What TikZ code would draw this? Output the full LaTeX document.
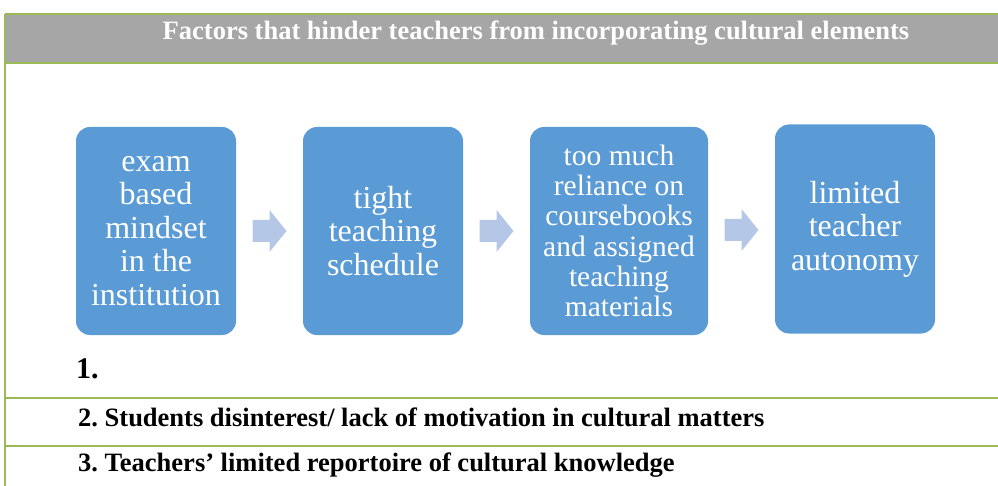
\documentclass[tikz,border=0pt]{standalone}
\usepackage{fontspec}
\setmainfont{Liberation Serif}
\frenchspacing
\definecolor{boxblue}{HTML}{5B9BD5}
\definecolor{arrblue}{HTML}{B4C7E7}
\definecolor{hdrgray}{HTML}{A6A6A6}
\definecolor{tabgreen}{HTML}{9BBB59}
\begin{document}
\begin{tikzpicture}[x=1pt,y=-1pt,
  stepbox/.style={fill=boxblue, rounded corners=14pt, inner sep=0pt, text=white, align=center,
    font=\fontsize{32}{33.5}\selectfont},
  chev/.style={fill=arrblue},
  gline/.style={draw=tabgreen, line width=2pt},
  rowtext/.style={anchor=west, font=\fontsize{26.5}{28}\bfseries\selectfont, inner sep=0pt}]
\useasboundingbox (0,0) rectangle (998,486);
% header
\fill[hdrgray] (5,14) rectangle (998,63);
\draw[gline] (5,14) -- (998,14);
\draw[gline] (5,63) -- (998,63);
\draw[gline] (5,398) -- (998,398);
\draw[gline] (5,446) -- (998,446);
\draw[tabgreen, line width=1.5pt] (5,14) -- (5,486);
\node[text=white, font=\fontsize{26.5}{28}\bfseries\selectfont, inner sep=0pt] (title) at (536,33)
  {Factors that hinder teachers from incorporating cultural elements};
% boxes
\node[stepbox, minimum width=160pt, minimum height=208pt] (b1) at (156,231)
  {exam\\based\\mindset\\in the\\institution};
\node[stepbox, minimum width=160pt, minimum height=208pt] (b2) at (383,231)
  {tight\\teaching\\schedule};
\node[stepbox, minimum width=178pt, minimum height=208pt, font=\fontsize{29.5}{30.2}\selectfont] (b3) at (619,231)
  {too much\\reliance on\\coursebooks\\and assigned\\teaching\\materials};
\node[stepbox, minimum width=160pt, minimum height=209pt] (b4) at (855,229)
  {limited\\teacher\\autonomy};
% chevron arrows
\foreach \a/\b in {b1/b2, b2/b3, b3/b4}{
  \path (\a.east) -- (\b.west) coordinate[pos=0.5] (m);
  \fill[chev] ([shift={(-17,-11)}]m) -- ([shift={(0,-11)}]m) -- ([shift={(0,-21)}]m)
     -- ([shift={(17,0)}]m) -- ([shift={(0,21)}]m) -- ([shift={(0,11)}]m) -- ([shift={(-17,11)}]m) -- cycle;
}
\node[anchor=west, inner sep=0pt, font=\fontsize{30}{32}\bfseries\selectfont] (one) at (76,369) {1.};
\node[rowtext] (r2) at (78,417) {2. Students disinterest/ lack of motivation in cultural matters};
\node[rowtext] (r3) at (78,465) {3. Teachers’ limited reportoire of cultural knowledge};
\end{tikzpicture}
\end{document}
